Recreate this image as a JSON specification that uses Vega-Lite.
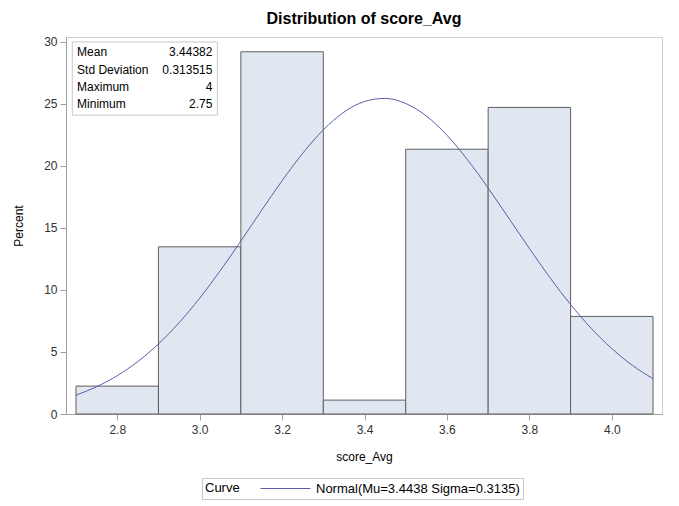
{
  "$schema": "https://vega.github.io/schema/vega-lite/v6.json",
  "autosize": "none",
  "width": 596,
  "height": 377,
  "padding": {"left": 66, "top": 37, "right": 17, "bottom": 92},
  "background": "white",
  "title": {"text": "Distribution of score_Avg", "font": "Liberation Sans", "fontSize": 16, "fontWeight": "bold", "color": "#000000", "offset": 9, "anchor": "middle"},
  "config": {
    "view": {"stroke": "#cfcfcf", "strokeWidth": 1},
    "font": "Liberation Sans",
    "axis": {"labelFont": "Liberation Sans", "titleFont": "Liberation Sans", "labelFontSize": 12, "titleFontSize": 12, "titleFontWeight": "normal", "labelColor": "#333333", "titleColor": "#000000", "domainColor": "#a0a0a0", "tickColor": "#a0a0a0", "tickSize": 6, "grid": false}
  },
  "datasets": {
    "bins": [
      {"bin_start": 2.7, "bin_end": 2.9, "percent": 2.25},
      {"bin_start": 2.9, "bin_end": 3.1, "percent": 13.48},
      {"bin_start": 3.1, "bin_end": 3.3, "percent": 29.21},
      {"bin_start": 3.3, "bin_end": 3.5, "percent": 1.12},
      {"bin_start": 3.5, "bin_end": 3.7, "percent": 21.35},
      {"bin_start": 3.7, "bin_end": 3.9, "percent": 24.72},
      {"bin_start": 3.9, "bin_end": 4.1, "percent": 7.87}
    ],
    "curve": [
      {"x": 2.70, "y": 1.52, "curve": "Normal(Mu=3.4438 Sigma=0.3135)"},
      {"x": 2.75, "y": 2.20, "curve": "Normal(Mu=3.4438 Sigma=0.3135)"},
      {"x": 2.80, "y": 3.09, "curve": "Normal(Mu=3.4438 Sigma=0.3135)"},
      {"x": 2.85, "y": 4.23, "curve": "Normal(Mu=3.4438 Sigma=0.3135)"},
      {"x": 2.90, "y": 5.65, "curve": "Normal(Mu=3.4438 Sigma=0.3135)"},
      {"x": 2.95, "y": 7.36, "curve": "Normal(Mu=3.4438 Sigma=0.3135)"},
      {"x": 3.00, "y": 9.34, "curve": "Normal(Mu=3.4438 Sigma=0.3135)"},
      {"x": 3.05, "y": 11.56, "curve": "Normal(Mu=3.4438 Sigma=0.3135)"},
      {"x": 3.10, "y": 13.95, "curve": "Normal(Mu=3.4438 Sigma=0.3135)"},
      {"x": 3.15, "y": 16.41, "curve": "Normal(Mu=3.4438 Sigma=0.3135)"},
      {"x": 3.20, "y": 18.81, "curve": "Normal(Mu=3.4438 Sigma=0.3135)"},
      {"x": 3.25, "y": 21.02, "curve": "Normal(Mu=3.4438 Sigma=0.3135)"},
      {"x": 3.30, "y": 22.91, "curve": "Normal(Mu=3.4438 Sigma=0.3135)"},
      {"x": 3.35, "y": 24.34, "curve": "Normal(Mu=3.4438 Sigma=0.3135)"},
      {"x": 3.40, "y": 25.20, "curve": "Normal(Mu=3.4438 Sigma=0.3135)"},
      {"x": 3.45, "y": 25.45, "curve": "Normal(Mu=3.4438 Sigma=0.3135)"},
      {"x": 3.50, "y": 25.04, "curve": "Normal(Mu=3.4438 Sigma=0.3135)"},
      {"x": 3.55, "y": 24.03, "curve": "Normal(Mu=3.4438 Sigma=0.3135)"},
      {"x": 3.60, "y": 22.48, "curve": "Normal(Mu=3.4438 Sigma=0.3135)"},
      {"x": 3.65, "y": 20.50, "curve": "Normal(Mu=3.4438 Sigma=0.3135)"},
      {"x": 3.70, "y": 18.22, "curve": "Normal(Mu=3.4438 Sigma=0.3135)"},
      {"x": 3.75, "y": 15.79, "curve": "Normal(Mu=3.4438 Sigma=0.3135)"},
      {"x": 3.80, "y": 13.35, "curve": "Normal(Mu=3.4438 Sigma=0.3135)"},
      {"x": 3.85, "y": 10.99, "curve": "Normal(Mu=3.4438 Sigma=0.3135)"},
      {"x": 3.90, "y": 8.83, "curve": "Normal(Mu=3.4438 Sigma=0.3135)"},
      {"x": 3.95, "y": 6.91, "curve": "Normal(Mu=3.4438 Sigma=0.3135)"},
      {"x": 4.00, "y": 5.28, "curve": "Normal(Mu=3.4438 Sigma=0.3135)"},
      {"x": 4.05, "y": 3.92, "curve": "Normal(Mu=3.4438 Sigma=0.3135)"},
      {"x": 4.10, "y": 2.85, "curve": "Normal(Mu=3.4438 Sigma=0.3135)"}
    ]
  },
  "layer": [
    {
      "data": {"name": "bins"},
      "mark": {"type": "rect", "fill": "#e1e7f1", "stroke": "#5f5f5f", "strokeWidth": 1},
      "encoding": {
        "x": {"field": "bin_start", "type": "quantitative", "scale": {"domain": [2.6757, 4.1218], "nice": false, "zero": false},
              "axis": {"title": "score_Avg", "values": [2.8, 3.0, 3.2, 3.4, 3.6, 3.8, 4.0], "format": ".1f", "labelPadding": 4, "titlePadding": 16}},
        "x2": {"field": "bin_end"},
        "y": {"field": "percent", "type": "quantitative", "scale": {"domain": [0, 30.4], "nice": false},
              "axis": {"title": "Percent", "values": [0, 5, 10, 15, 20, 25, 30], "labelPadding": 3, "titlePadding": 18}},
        "y2": {"datum": 0}
      }
    },
    {
      "data": {"name": "curve"},
      "mark": {"type": "line", "strokeWidth": 1, "interpolate": "monotone"},
      "encoding": {
        "x": {"field": "x", "type": "quantitative"},
        "y": {"field": "y", "type": "quantitative"},
        "color": {"field": "curve", "type": "nominal", "scale": {"range": ["#5a5fa6"]},
                  "legend": {"title": "Curve", "orient": "none", "legendX": 136, "legendY": 441, "direction": "horizontal", "titleOrient": "left", "titleBaseline": "middle", "titleAnchor": "middle", "symbolType": "M-1,0H6.14", "symbolSize": 196, "symbolStrokeWidth": 1, "strokeColor": "#c8c8c8", "padding": 3, "labelFontSize": 13, "titleFontSize": 13, "titleFontWeight": "normal", "labelFont": "Liberation Sans", "titleFont": "Liberation Sans", "titlePadding": 20, "labelOffset": 41, "labelColor": "#000000", "titleColor": "#000000", "labelLimit": 400}}
      }
    },
    {
      "data": {"values": [{}]},
      "mark": {"type": "rect", "fill": "white", "stroke": "#c8c8c8", "strokeWidth": 1},
      "encoding": {
        "x": {"datum": 2.691},
        "x2": {"datum": 3.043},
        "y": {"datum": 24.1},
        "y2": {"datum": 30.0}
      }
    },
    {
      "data": {"values": [{}]},
      "mark": {"type": "text", "align": "left", "baseline": "middle", "fontSize": 12, "font": "Liberation Sans", "color": "#000000", "lineHeight": 17.3,
               "text": ["Mean", "Std Deviation", "Maximum", "Minimum"]},
      "encoding": {"x": {"datum": 2.7025}, "y": {"datum": 29.17}}
    },
    {
      "data": {"values": [{}]},
      "mark": {"type": "text", "align": "right", "baseline": "middle", "fontSize": 12, "font": "Liberation Sans", "color": "#000000", "lineHeight": 17.3,
               "text": ["3.44382", "0.313515", "4", "2.75"]},
      "encoding": {"x": {"datum": 3.031}, "y": {"datum": 29.17}}
    }
  ]
}
